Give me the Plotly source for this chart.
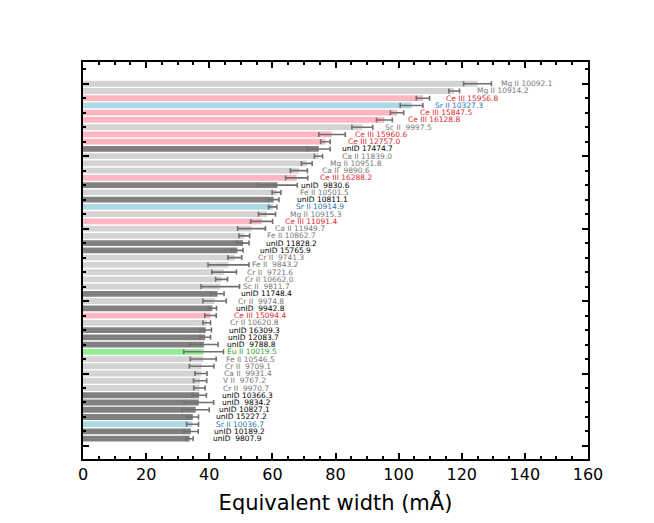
import plotly.graph_objects as go

# line identifications, sorted by equivalent width (top of chart first)
species = ["Mg II", "Mg II", "Ce III", "Sr II", "Ce III", "Ce III", "Sc II", "Ce III", "Ce III", "unID",
           "Ca II", "Mg II", "Ca II", "Ce III", "unID", "Fe II", "unID", "Sr II", "Mg II", "Ce III",
           "Ca II", "Fe II", "unID", "unID", "Cr II", "Fe II", "Cr II", "Cr II", "Sc II", "unID",
           "Cr II", "unID", "Ce III", "Cr II", "unID", "unID", "unID", "Eu II", "Fe II", "Cr II",
           "Ca II", "V II", "Cr II", "unID", "unID", "unID", "unID", "Sr II", "unID", "unID"]
wavelength = [10092.1, 10914.2, 15956.8, 10327.3, 15847.5, 16128.8, 9997.5, 15960.6, 12757.0, 17474.7,
              11839.0, 10951.8, 9890.6, 16288.2, 9830.6, 10501.5, 10811.1, 10914.9, 10915.3, 11091.4,
              11949.7, 10862.7, 11828.2, 15765.9, 9741.3, 9843.2, 9721.6, 10662.0, 9811.7, 11748.4,
              9974.8, 9942.8, 15094.4, 10620.8, 16309.3, 12083.7, 9788.8, 10019.5, 10546.5, 9709.1,
              9931.4, 9767.2, 9970.7, 10366.3, 9834.2, 10827.1, 15227.2, 10036.7, 10189.2, 9807.9]
ew = [125.0, 117.6, 107.7, 104.1, 99.5, 95.5, 88.5, 78.9, 76.8, 74.7,
      74.6, 70.9, 68.4, 67.7, 61.6, 61.3, 60.4, 60.1, 58.3, 56.6,
      53.4, 51.1, 50.7, 48.9, 48.1, 46.1, 44.7, 43.9, 43.5, 42.6,
      41.7, 41.0, 40.4, 39.2, 38.9, 38.7, 38.3, 38.2, 38.1, 37.6,
      37.4, 37.1, 36.9, 36.8, 36.7, 35.7, 34.8, 34.7, 34.2, 33.8]
ew_err = [4.4, 1.7, 2.1, 3.6, 2.1, 2.5, 3.3, 4.2, 1.5, 3.6,
          1.3, 1.7, 2.7, 3.5, 6.3, 1.4, 1.7, 1.3, 2.7, 3.5,
          4.4, 1.7, 1.9, 1.8, 2.2, 6.5, 3.9, 1.9, 6.1, 2.1,
          3.7, 1.3, 1.8, 1.2, 1.8, 1.7, 4.5, 6.3, 4.1, 3.9,
          1.9, 2.1, 1.8, 2.3, 4.7, 4.3, 1.8, 1.9, 2.3, 1.1]

# bar colour / label colour per species
bar_colors = {"Ce III": "#ffb6c1", "Sr II": "#add8e6", "Eu II": "#90ee90", "unID": "#808080"}
text_colors = {"Ce III": "#e0282e", "Sr II": "#1f77b4", "Eu II": "#2ca02c", "unID": "black"}

n = len(ew)
ypos = [n - i for i in range(n)]
labels = [s + " " + f"{w:7.1f}".replace(" ", "\u00a0") for s, w in zip(species, wavelength)]

fig = go.Figure()
fig.add_trace(go.Bar(
    x=ew, y=ypos, orientation="h", width=0.8,
    marker=dict(color=[bar_colors.get(s, "#d3d3d3") for s in species], line=dict(width=0)),
    error_x=dict(type="data", array=ew_err, color="#707070", thickness=1.6, width=2.5),
    hoverinfo="skip",
))

# labels next to each bar
for v, yy, lab, s in zip(ew, ypos, labels, species):
    fig.add_annotation(
        x=v + 7, y=yy, text=lab, showarrow=False,
        xanchor="left", yanchor="middle", borderpad=0,
        font=dict(family="DejaVu Sans", size=7.5, color=text_colors.get(s, "#777777")),
    )

fig.update_layout(
    width=646, height=515,
    margin=dict(l=75, r=66, t=54, b=58),
    paper_bgcolor="white", plot_bgcolor="white",
    showlegend=False,
    font=dict(family="DejaVu Sans", color="black"),
)
fig.update_xaxes(
    range=[0, 160], dtick=20, tick0=0,
    ticks="inside", ticklen=6, tickwidth=1.5, tickcolor="black",
    minor=dict(dtick=5, ticks="inside", ticklen=3, tickwidth=1.5, tickcolor="black"),
    showline=True, linewidth=2, linecolor="black", mirror="ticks",
    showgrid=False, zeroline=False,
    tickfont=dict(size=16),
    title=dict(text="Equivalent width (mÅ)", font=dict(size=21), standoff=12),
)
fig.update_yaxes(
    range=[-1.8, 53], dtick=10, tick0=0,
    ticks="inside", ticklen=6, tickwidth=2, tickcolor="black",
    minor=dict(dtick=2, ticks="inside", ticklen=3, tickwidth=2, tickcolor="black"),
    showticklabels=False,
    showline=True, linewidth=2, linecolor="black", mirror="ticks",
    showgrid=False, zeroline=False,
)

fig.write_html("out.html")
